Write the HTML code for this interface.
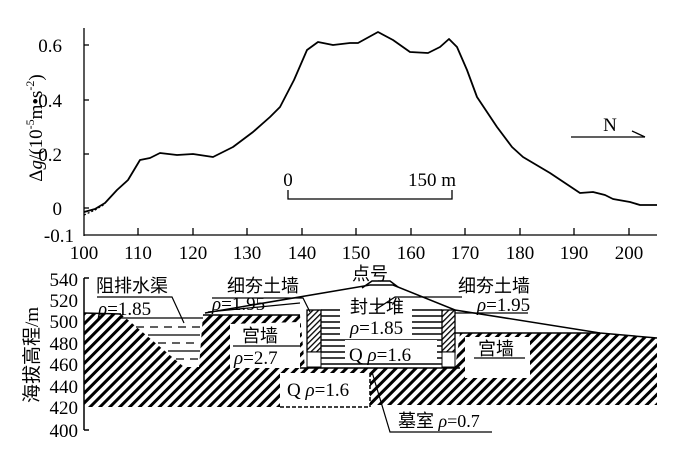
<!DOCTYPE html>
<html><head><meta charset="utf-8"><style>
html,body{margin:0;padding:0;background:#fff;}
svg{display:block;}
text{font-family:"Liberation Serif","Noto Serif CJK SC",serif;fill:#000;}
.cj{font-family:"Liberation Serif","Noto Sans CJK SC",sans-serif;}
</style></head><body>
<svg width="700" height="458" viewBox="0 0 700 458" xmlns="http://www.w3.org/2000/svg">
<defs>
<pattern id="h" patternUnits="userSpaceOnUse" width="7" height="7" patternTransform="rotate(45)">
<rect width="7" height="7" fill="#fff"/><rect x="0" y="0" width="3" height="7" fill="#000"/>
</pattern>
<pattern id="hs" patternUnits="userSpaceOnUse" width="4" height="4" patternTransform="rotate(45)">
<rect width="4" height="4" fill="#fff"/><rect x="0" y="0" width="1.3" height="4" fill="#000"/>
</pattern>
</defs>
<g stroke="#000" stroke-width="1.3" fill="none">
<line x1="84" y1="28" x2="84" y2="236"/>
<line x1="84" y1="235" x2="657" y2="235"/>
<line x1="84" y1="45" x2="89" y2="45"/><line x1="84" y1="100" x2="89" y2="100"/>
<line x1="84" y1="154" x2="89" y2="154"/><line x1="84" y1="208" x2="89" y2="208"/>
<line x1="138" y1="228" x2="138" y2="235"/><line x1="193" y1="228" x2="193" y2="235"/>
<line x1="247" y1="228" x2="247" y2="235"/><line x1="302" y1="228" x2="302" y2="235"/>
<line x1="356" y1="228" x2="356" y2="235"/><line x1="411" y1="228" x2="411" y2="235"/>
<line x1="465" y1="228" x2="465" y2="235"/><line x1="520" y1="228" x2="520" y2="235"/>
<line x1="574" y1="228" x2="574" y2="235"/><line x1="629" y1="228" x2="629" y2="235"/>
<polyline stroke-width="1.8" stroke-linejoin="round" points="84,212 95,209 105,203 117,190 128,180 140,160 150,158 160,153 177,155 193,154 213,157 223,152 233,147 253,132 270,117 280,107 294,80 307,50 318,42 333,45 350,43 358,43 378,32 393,40 410,52 428,53 440,47 449,39 457,47 467,70 477,97 497,127 512,147 523,157 550,173 580,193 593,192 605,195 613,199 630,202 640,205 657,205"/>
<polyline stroke-dasharray="2,2" points="84,215 95,210 105,204"/>
<polyline points="288,190 288,199 452,199 452,190"/>
<line x1="571" y1="137" x2="645" y2="137"/>
<polyline points="632,131 645,137"/>
</g>
<g font-size="19">
<text x="62" y="52" text-anchor="end">0.6</text>
<text x="62" y="107" text-anchor="end">0.4</text>
<text x="62" y="161" text-anchor="end">0.2</text>
<text x="62" y="215" text-anchor="end">0</text>
<text x="74" y="242" text-anchor="end">-0.1</text>
<g text-anchor="middle">
<text x="84" y="259">100</text><text x="138" y="259">110</text><text x="193" y="259">120</text>
<text x="247" y="259">130</text><text x="302" y="259">140</text><text x="356" y="259">150</text>
<text x="411" y="259">160</text><text x="465" y="259">170</text><text x="520" y="259">180</text>
<text x="574" y="259">190</text><text x="629" y="259">200</text>
</g>
<text x="288" y="186" text-anchor="middle">0</text>
<text x="432" y="186" text-anchor="middle">150 m</text>
<text x="610" y="131" text-anchor="middle">N</text>
<text transform="translate(42,128) rotate(-90)" text-anchor="middle">Δ<tspan font-style="italic">g</tspan>/(10<tspan font-size="12" dy="-8">-5</tspan><tspan dy="8">m•s</tspan><tspan font-size="12" dy="-8">-2</tspan><tspan dy="8">)</tspan></text>
</g>

<path fill="url(#h)" d="M84,313 L121,314 L184,367 L199,367 L203,315 L300,315 L305,368 L455,368 L460,333 L600,333 L657,338 L657,405 L370,405 L370,373 L280,373 L280,407 L84,407 Z"/>
<rect x="280" y="373" width="90" height="34" fill="#fff"/>
<path d="M280,407 L370,407 M370,373 L370,407" stroke="#000" stroke-width="1.5" stroke-dasharray="4,2" fill="none"/>
<path d="M230,324 L300,322 L300,368 L230,368 Z" fill="#fff"/>
<rect x="465" y="337" width="65" height="41" fill="#fff"/>
<g stroke="#000" stroke-width="1.3">
<line x1="121" y1="318" x2="203" y2="318"/>
<line x1="136" y1="327" x2="200" y2="327" stroke-dasharray="8,6"/>
<line x1="148" y1="335" x2="200" y2="335"/>
<line x1="158" y1="343" x2="200" y2="343" stroke-dasharray="8,6"/>
<line x1="168" y1="351" x2="200" y2="351"/>
<line x1="176" y1="359" x2="200" y2="359" stroke-dasharray="8,6"/>
</g>
<g stroke="#000" stroke-width="1.5">
<line x1="321" y1="310" x2="442" y2="310"/><line x1="321" y1="316" x2="442" y2="316"/>
<line x1="321" y1="322" x2="442" y2="322"/><line x1="321" y1="328" x2="442" y2="328"/>
<line x1="321" y1="334" x2="442" y2="334"/><line x1="321" y1="340" x2="442" y2="340"/>
<line x1="321" y1="346" x2="442" y2="346"/><line x1="321" y1="352" x2="442" y2="352"/>
<line x1="321" y1="358" x2="442" y2="358"/><line x1="321" y1="364" x2="442" y2="364"/>
<line x1="300" y1="368" x2="460" y2="368"/>
</g>
<rect x="340" y="296" width="72" height="22" fill="#fff"/>
<rect x="340" y="320" width="72" height="16" fill="#fff"/>
<rect x="345" y="340" width="92" height="22" fill="#fff"/>
<rect x="307" y="310" width="14" height="42" fill="url(#hs)" stroke="#000" stroke-width="1.3"/>
<rect x="307" y="352" width="14" height="15" fill="#fff" stroke="#000" stroke-width="1"/>
<rect x="442" y="310" width="13" height="42" fill="url(#hs)" stroke="#000" stroke-width="1.3"/>
<rect x="442" y="352" width="13" height="15" fill="#fff" stroke="#000" stroke-width="1"/>
<g stroke="#000" stroke-width="1.5" fill="none">
<polyline points="84,313 121,314"/>
<polyline points="203,315 300,315"/>
<polyline points="205,313 370,285 393,285 455,310 600,333 657,338"/>
<polyline points="362,288 372,281 390,281 398,287"/>
<polyline points="455,333 600,333"/>
<line x1="84" y1="278" x2="84" y2="430"/>
<line x1="84" y1="278" x2="89" y2="278"/><line x1="84" y1="430" x2="89" y2="430"/>
<polyline stroke-width="1.2" points="97,297 172,297 184,323"/>
<polyline stroke-width="1.2" points="212,298 303,298 310,312"/>
<polyline stroke-width="1.2" points="462,297 395,297 375,310"/>
<polyline stroke-width="1.2" points="208,312 300,303"/>
<polyline stroke-width="1.2" points="455,313 528,313"/>
<line stroke-width="1.2" x1="233" y1="346" x2="300" y2="346"/>
<line stroke-width="1.2" x1="474" y1="358" x2="525" y2="358"/>
<polyline stroke-width="1.2" points="372,372 390,432 492,432"/>
</g>
<g font-size="19">
<text x="78" y="286" text-anchor="end">540</text><text x="78" y="307" text-anchor="end">520</text>
<text x="78" y="328" text-anchor="end">500</text><text x="78" y="350" text-anchor="end">480</text>
<text x="78" y="371" text-anchor="end">460</text><text x="78" y="393" text-anchor="end">440</text>
<text x="78" y="414" text-anchor="end">420</text><text x="78" y="437" text-anchor="end">400</text>
<text class="cj" transform="translate(38,355) rotate(-90)" text-anchor="middle" font-size="19">海拔高程/m</text>
<text class="cj" x="96" y="292" font-size="18">阻排水渠</text>
<text x="98" y="315"><tspan font-style="italic">ρ</tspan>=1.85</text>
<text class="cj" x="227" y="292" font-size="18">细夯土墙</text>
<text x="212" y="310"><tspan font-style="italic">ρ</tspan>=1.95</text>
<text class="cj" x="352" y="280" font-size="18">点号</text>
<text class="cj" x="350" y="313" font-size="18">封土堆</text>
<text x="350" y="334"><tspan font-style="italic">ρ</tspan>=1.85</text>
<text x="349" y="361">Q <tspan font-style="italic">ρ</tspan>=1.6</text>
<text class="cj" x="242" y="342" font-size="18">宫墙</text>
<text x="234" y="364"><tspan font-style="italic">ρ</tspan>=2.7</text>
<text x="287" y="396">Q <tspan font-style="italic">ρ</tspan>=1.6</text>
<text class="cj" x="458" y="292" font-size="18">细夯土墙</text>
<text x="477" y="311"><tspan font-style="italic">ρ</tspan>=1.95</text>
<text class="cj" x="478" y="355" font-size="18">宫墙</text>
<text class="cj" x="398" y="427" font-size="18">墓室 <tspan font-family="Liberation Serif" font-style="italic">ρ</tspan><tspan font-family="Liberation Serif">=0.7</tspan></text>
</g>
</svg>
</body></html>
